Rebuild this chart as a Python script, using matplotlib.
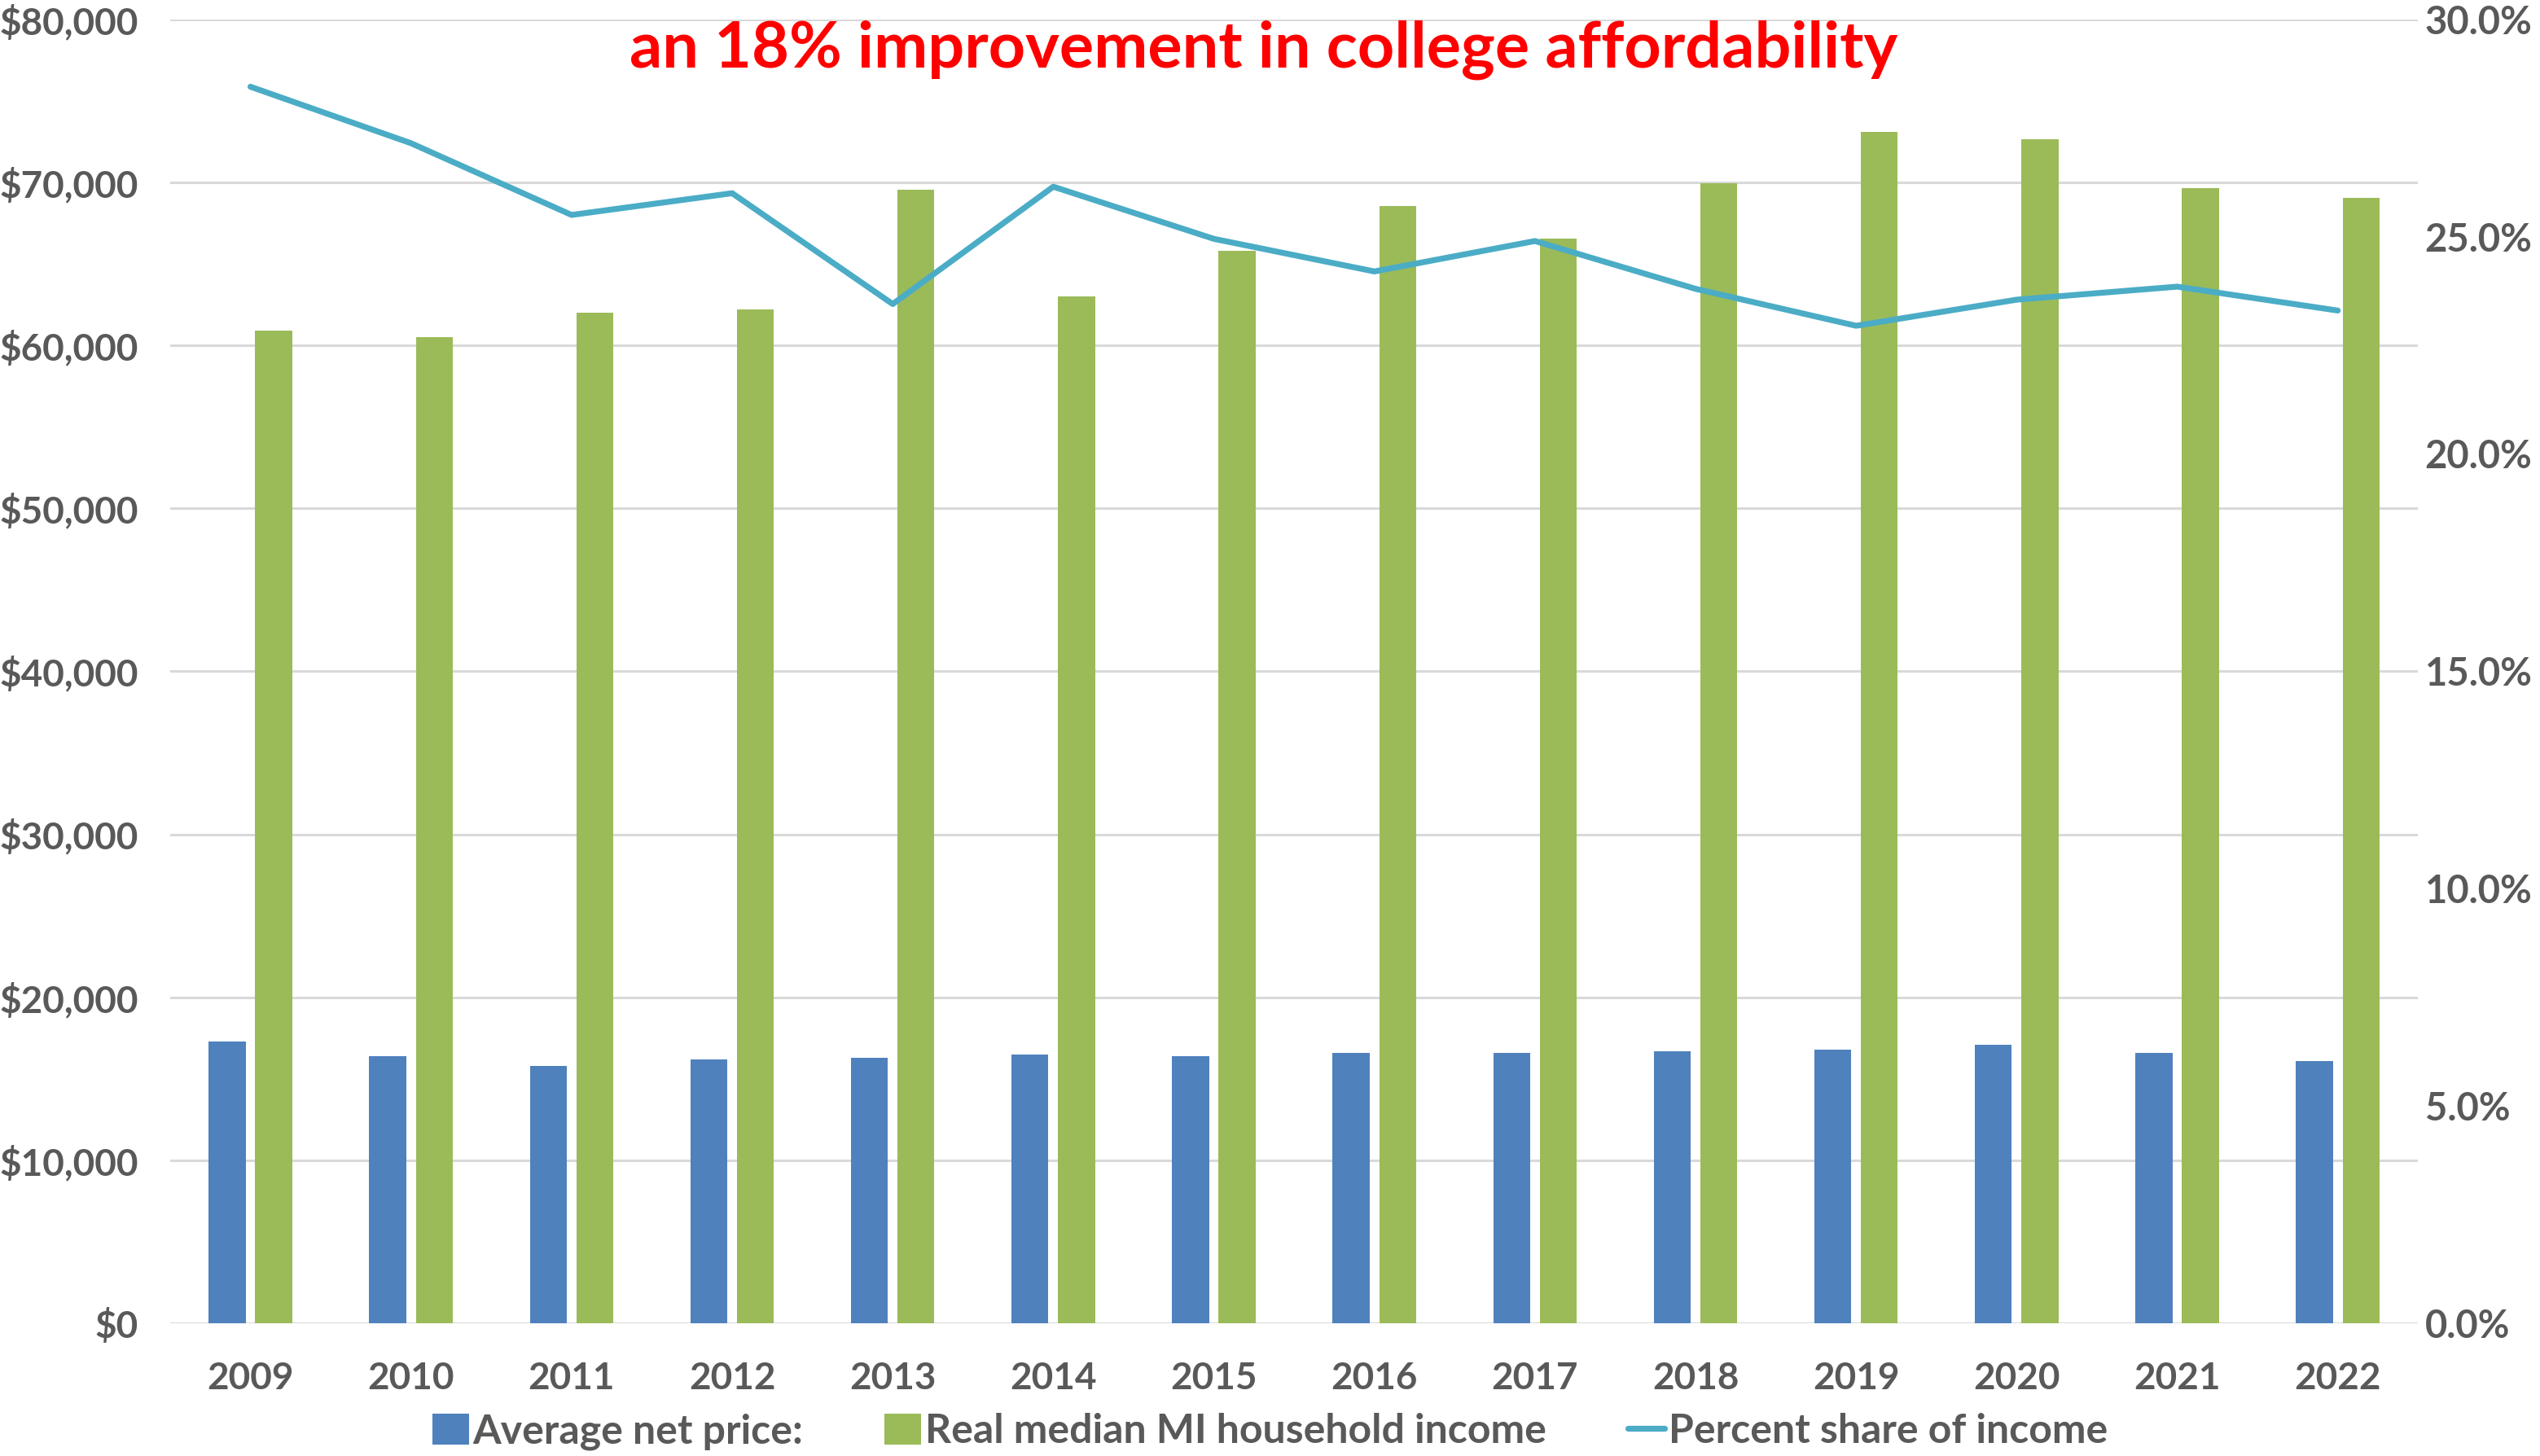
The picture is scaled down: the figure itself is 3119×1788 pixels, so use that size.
import numpy as np
import matplotlib.pyplot as plt
from matplotlib.ticker import FuncFormatter, MultipleLocator

plt.rcParams['font.family'] = ['Lato', 'DejaVu Sans']
plt.rcParams['font.weight'] = 'bold'

# data
years = ["2009", "2010", "2011", "2012", "2013", "2014", "2015",
         "2016", "2017", "2018", "2019", "2020", "2021", "2022"]
net_price = [17300, 16400, 15800, 16200, 16300, 16500, 16400,
             16600, 16600, 16700, 16800, 17100, 16600, 16100]
median_income = [60900, 60500, 62000, 62200, 69550, 63000, 65800,
                 68550, 66550, 69950, 73100, 72650, 69650, 69050]
pct_share = [28.45, 27.15, 25.5, 26.0, 23.45, 26.15, 24.95,
             24.2, 24.9, 23.8, 22.95, 23.55, 23.85, 23.3]

blue = "#4F81BD"
green = "#9BBB59"
teal = "#4BACC6"
grey = "#595959"

fig = plt.figure(figsize=(15.595, 8.94), dpi=200)
ax = fig.add_axes([0.067, 0.0912, 0.885, 0.8955])
ax2 = ax.twinx()

x = np.arange(len(years))
w = 0.23
ax.bar(x - 0.145, net_price, w, color=blue, label="Average net price:", zorder=2)
ax.bar(x + 0.145, median_income, w, color=green, label="Real median MI household income", zorder=2)
ax2.plot(x, pct_share, color=teal, lw=2.6, label="Percent share of income",
         solid_capstyle='round')

ax.set_xlim(-0.5, len(years) - 0.5)
ax.set_ylim(0, 80000)
ax2.set_ylim(0, 30)
ax.yaxis.set_major_locator(MultipleLocator(10000))
ax2.yaxis.set_major_locator(MultipleLocator(5))
ax.yaxis.set_major_formatter(FuncFormatter(lambda v, p: "${:,.0f}".format(v)))
ax2.yaxis.set_major_formatter(FuncFormatter(lambda v, p: "{:.1f}%".format(v)))

ax.set_xticks(x)
ax.set_xticklabels(years)
ax.grid(axis='y', color='#d9d9d9', lw=1.1, zorder=0)
ax.set_axisbelow(True)

for a in (ax, ax2):
    for s in a.spines.values():
        s.set_visible(False)
ax.tick_params(axis='x', length=0, pad=17, labelsize=16.5, labelcolor=grey)
ax.tick_params(axis='y', length=0, pad=14, labelsize=16.5, labelcolor=grey)
ax2.tick_params(axis='y', length=0, pad=3, labelsize=17, labelcolor=grey)

fig.text(0.4974, 0.9655, "an 18% improvement in college affordability",
         color='red', fontsize=28.5, fontweight='bold', ha='center', va='center')

h1, l1 = ax.get_legend_handles_labels()
h2, l2 = ax2.get_legend_handles_labels()
fig.legend(h1 + h2, l1 + l2, loc='lower center', bbox_to_anchor=(0.5, -0.021),
           ncol=3, frameon=False, fontsize=18, labelcolor=grey,
           handlelength=0.9, handleheight=0.8, handletextpad=0.1, columnspacing=2.0)

fig.savefig("out.png", dpi=200)
